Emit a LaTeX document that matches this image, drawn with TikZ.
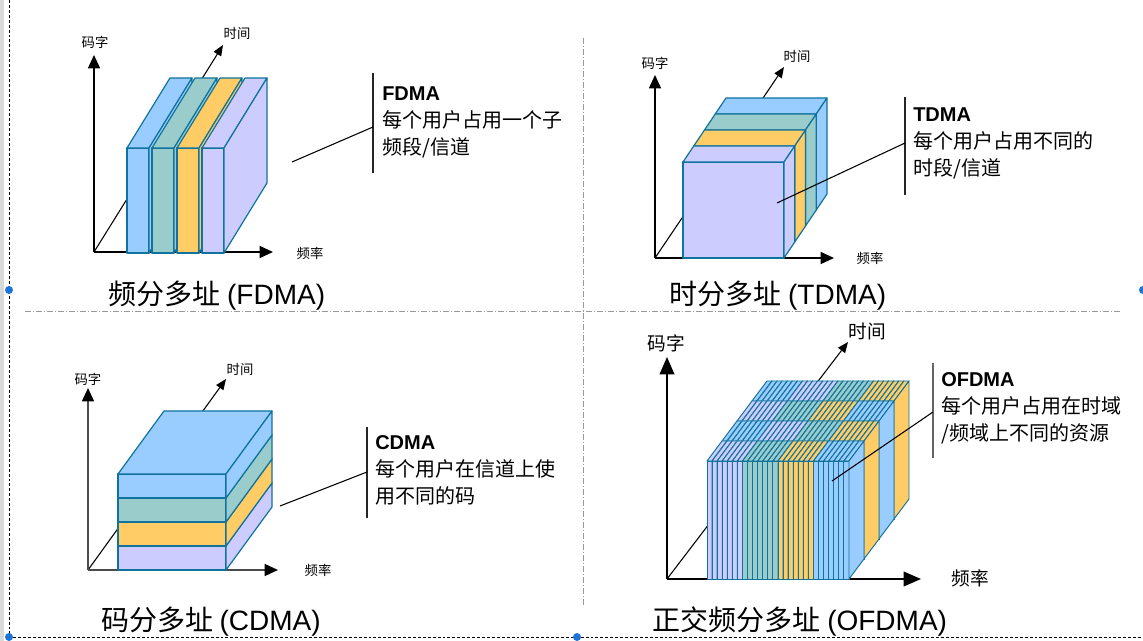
\documentclass[tikz,border=0pt]{standalone}
\usepackage{fontspec}
\usepackage{xcolor}
\usetikzlibrary{arrows.meta}
\setmainfont{Noto Sans CJK SC}
\newfontfamily\lat{Liberation Sans}
\definecolor{fblue}{HTML}{99CCFF}
\definecolor{fteal}{HTML}{9ACCCB}
\definecolor{forange}{HTML}{FFCC66}
\definecolor{flav}{HTML}{CCCCFF}
\definecolor{boxline}{HTML}{10739E}
\definecolor{selblue}{HTML}{1F74DB}
\colorlet{ocol0}{flav}
\colorlet{ocol1}{fteal}
\colorlet{ocol2}{forange}
\colorlet{ocol3}{fblue}
\tikzstyle{face} = [draw=boxline, line width=0.9pt, line join=round]
\tikzstyle{main-axis} = [line width=1.1pt, -{Triangle[length=10pt,width=9pt,color=black]}]
\tikzstyle{time-axis} = [line width=0.8pt, -{Triangle[length=8pt,width=6.5pt]}]
\tikzstyle{axis-label} = [font=\fontsize{10pt}{12pt}\selectfont, inner sep=0pt]
\tikzstyle{panel-title} = [font=\fontsize{21pt}{25pt}\selectfont, inner sep=0pt]
\tikzstyle{note-text} = [font=\fontsize{15pt}{20.25pt}\selectfont, align=left,
    inner sep=0pt, anchor=north west]
\tikzstyle{note-bar} = [line width=1pt, draw=black!85]
\tikzstyle{leader} = [line width=0.8pt]
\tikzstyle{divider} = [draw=black!40, line width=0.75pt,
    dash pattern=on 4.5pt off 1.5pt on 0.75pt off 1.5pt]
\tikzstyle{selection} = [draw=black, line width=0.6pt, dash pattern=on 2.2pt off 1.5pt]
\tikzstyle{handle} = [fill=selblue, draw=none]
% left x, bottom y, width, height, depth x, depth rise, fill
\newcommand{\cuboid}[7]{%
  \filldraw[face,fill=#7] (#1,#2) rectangle (#1+#3,#2-#4);
  \filldraw[face,fill=#7] (#1,#2-#4) -- (#1+#5,#2-#4-#6) -- (#1+#3+#5,#2-#4-#6) -- (#1+#3,#2-#4) -- cycle;
  \filldraw[face,fill=#7] (#1+#3,#2) -- (#1+#3+#5,#2-#6) -- (#1+#3+#5,#2-#4-#6) -- (#1+#3,#2-#4) -- cycle;
}

\begin{document}
\begin{tikzpicture}[x=0.75pt, y=-0.75pt]
\useasboundingbox (0,0) rectangle (1143,641);
\fill[black!15] (0,0) rectangle (4,641);
\draw[selection] (9,0) -- (9,637) -- (1143,637);
\draw[divider] (25,312) -- (1120,312);
\draw[divider] (583,38) -- (583,607);

% FDMA
\coordinate (fo) at (94,252);
\coordinate (fy) at (94,55);
\coordinate (fx) at (273,252);
\coordinate (ft) at (223,45);
\draw[time-axis] (fo) -- (ft);
\draw[main-axis] (fo) -- (fy);
\draw[main-axis] (fo) -- (fx);
\node[axis-label] (fylab) at (95,42) {码字};
\node[axis-label] (ftlab) at (237,33) {时间};
\node[axis-label] (fxlab) at (310,253) {频率};
\foreach \x/\c in {127/fblue,152/fteal,177/forange,202/flav}
  \cuboid{\x}{253}{22}{105}{43}{70}{\c}
\coordinate (fbartop) at (373,73);
\coordinate (fbarbot) at (373,173);
\coordinate (fbarmid) at (373,127);
\coordinate (fpin) at (292,162);
\draw[note-bar] (fbartop) -- (fbarbot);
\draw[leader] (fpin) -- (fbarmid);
\node[note-text] (fnote) at (382,86) {{\lat\bfseries FDMA}\\每个用户占用一个子\\频段/信道};
\node[panel-title] (ftitle) at (217,296) {频分多址 {\lat (FDMA)}};

% TDMA
\coordinate (to) at (655,258);
\coordinate (ty) at (655,75);
\coordinate (tx) at (834,258);
\coordinate (tt) at (784,67);
\draw[time-axis] (to) -- (tt);
\draw[main-axis] (to) -- (ty);
\draw[main-axis] (to) -- (tx);
\node[axis-label] (tylab) at (655,63) {码字};
\node[axis-label] (ttlab) at (797,56) {时间};
\node[axis-label] (txlab) at (870,258) {频率};
\foreach \k/\c in {3/fblue,2/fteal,1/forange,0/flav}
  \cuboid{683+10.75*\k}{258-16*\k}{101}{96}{10.75}{16}{\c}
\coordinate (tbartop) at (905,97);
\coordinate (tbarbot) at (905,195);
\coordinate (tbarmid) at (905,143);
\coordinate (tpin) at (777,203);
\draw[note-bar] (tbartop) -- (tbarbot);
\draw[leader] (tpin) -- (tbarmid);
\node[note-text] (tnote) at (913,107) {{\lat\bfseries TDMA}\\每个用户占用不同的\\时段/信道};
\node[panel-title] (ttitle) at (778,296) {时分多址 {\lat (TDMA)}};

% CDMA
\coordinate (co) at (88,570);
\coordinate (cy) at (88,388);
\coordinate (cx) at (278,570);
\coordinate (ct) at (226,379);
\draw[time-axis] (co) -- (ct);
\draw[main-axis, draw=black!70] (co) -- (cy);
\draw[main-axis, draw=black!70] (co) -- (cx);
\node[axis-label] (cylab) at (88,379) {码字};
\node[axis-label] (ctlab) at (240,369) {时间};
\node[axis-label] (cxlab) at (318,570) {频率};
\foreach \k/\c in {0/flav,1/forange,2/fteal,3/fblue}
  \cuboid{118}{570-24*\k}{108}{24}{46}{63}{\c}
\coordinate (cbartop) at (367,427);
\coordinate (cbarbot) at (367,518);
\coordinate (cbarmid) at (367,472);
\coordinate (cpin) at (280,506);
\draw[note-bar] (cbartop) -- (cbarbot);
\draw[leader] (cpin) -- (cbarmid);
\node[note-text] (cnote) at (375,435) {{\lat\bfseries CDMA}\\每个用户在信道上使\\用不同的码};
\node[panel-title] (ctitle) at (211,622) {码分多址 {\lat (CDMA)}};

% OFDMA
\coordinate (oo) at (667,579);
\coordinate (oy) at (667,357);
\coordinate (ox) at (921,579);
\coordinate (ot) at (848,342);
\draw[time-axis] (oo) -- (ot);
\draw[main-axis, -{Triangle[length=13pt,width=11pt]}] (oo) -- (oy);
\draw[main-axis, -{Triangle[length=13pt,width=11pt]}] (oo) -- (ox);
\node[axis-label, font=\fontsize{14pt}{16pt}\selectfont] (oylab) at (666,343) {码字};
\node[axis-label, font=\fontsize{14pt}{16pt}\selectfont] (otlab) at (867,331) {时间};
\node[axis-label, font=\fontsize{14pt}{16pt}\selectfont] (oxlab) at (970,578) {频率};
\begin{scope}[face/.append style={line width=0.7pt}]
\foreach \s/\sh in {3/3,2/0,1/3,0/0}
  \foreach \i in {0,...,27} {
    \pgfmathtruncatemacro\g{mod(floor(\i/7)+\sh,4)}
    \cuboid{707+15*\s+5.0714*\i}{579-20*\s}{5.0714}{118}{15}{20}{ocol\g}
  }
\end{scope}
\coordinate (obartop) at (933,363);
\coordinate (obarbot) at (933,458);
\coordinate (obarmid) at (933,412);
\coordinate (opin) at (832,481);
\draw[note-bar, draw=black!60] (obartop) -- (obarbot);
\draw[leader] (opin) -- (obarmid);
\node[note-text] (onote) at (941,372) {{\lat\bfseries OFDMA}\\每个用户占用在时域\\/频域上不同的资源};
\node[panel-title] (otitle) at (800,622) {正交频分多址 {\lat (OFDMA)}};

\fill[handle] (9,290) circle (3pt);
\fill[handle] (9,637) circle (3pt);
\fill[handle] (577,637) circle (3pt);
\fill[handle] (1143,290) circle (3pt);
\end{tikzpicture}
\end{document}
